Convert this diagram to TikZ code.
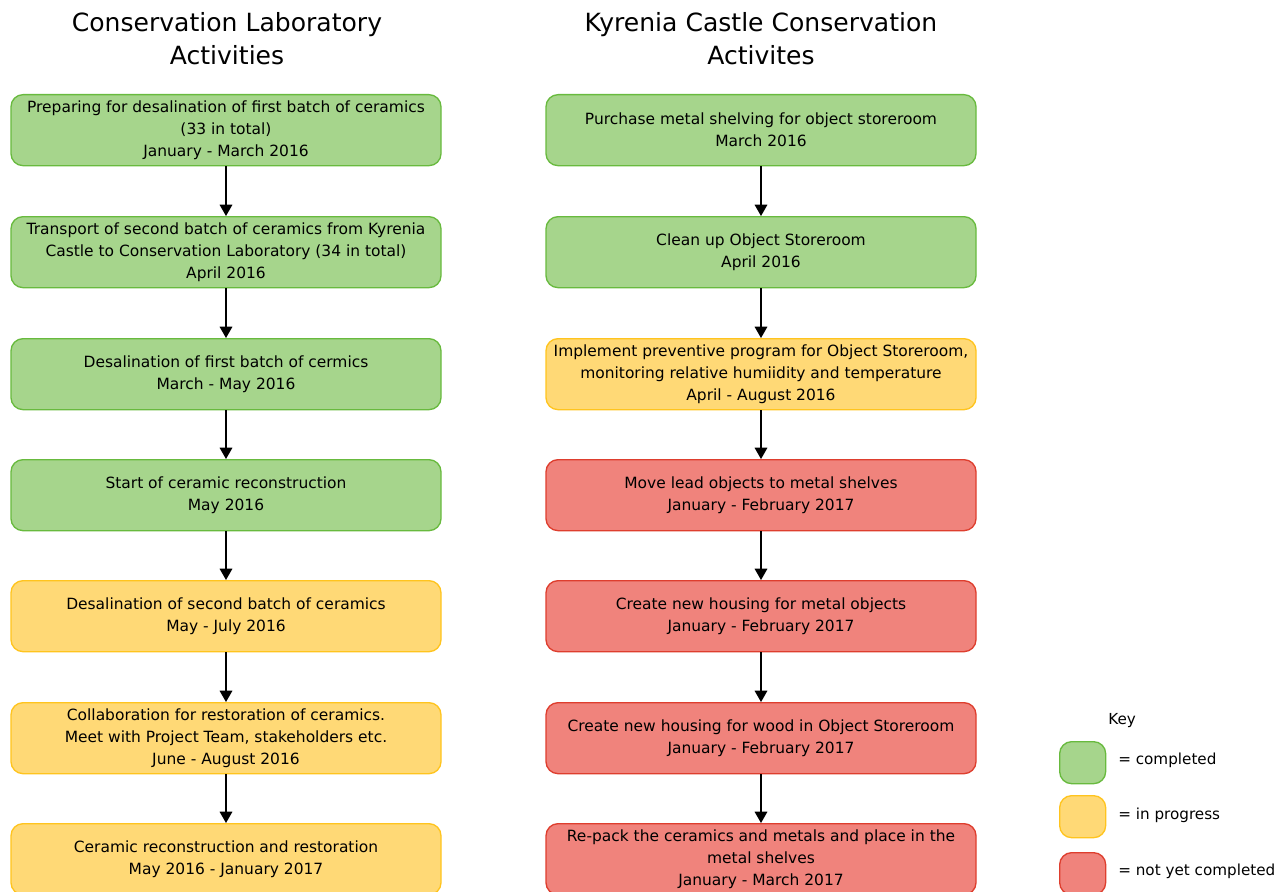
\documentclass[tikz,border=0pt]{standalone}
\usepackage{fontspec}
\setmainfont{DejaVu Sans}
\usetikzlibrary{arrows.meta}
\definecolor{gfill}{RGB}{166,213,140}
\definecolor{gline}{RGB}{104,186,62}
\definecolor{yfill}{RGB}{255,217,118}
\definecolor{yline}{RGB}{255,196,30}
\definecolor{rfill}{RGB}{240,131,124}
\definecolor{rline}{RGB}{222,62,46}
\tikzset{
  x=0.75pt, y=-0.75pt,
  box/.style={rounded corners=9pt, line width=1pt, minimum width=322.5pt, minimum height=53.25pt,
    align=center, inner sep=0pt, font=\fontsize{11.6pt}{16.5pt}\selectfont, anchor=north},
  gbox/.style={box, fill=gfill, draw=gline},
  ybox/.style={box, fill=yfill, draw=yline},
  rbox/.style={box, fill=rfill, draw=rline},
  keybox/.style={rounded corners=9pt, line width=1pt, minimum width=34.5pt, minimum height=31.5pt, inner sep=0pt, anchor=north west},
  title/.style={align=center, font=\fontsize{18.8pt}{24.75pt}\selectfont},
  keytext/.style={anchor=west, font=\fontsize{11.4pt}{13pt}\selectfont, inner sep=0pt},
  arr/.style={-{Triangle[width=9.5pt,length=8.5pt]}, line width=0.9pt, black},
}
\begin{document}
\begin{tikzpicture}
\useasboundingbox (0,0) rectangle (1282,892);
\node[title] (t1) at (227,39) {Conservation Laboratory\\Activities};
\node[title] (t2) at (761,39) {Kyrenia Castle Conservation\\Activites};

\node[gbox] (l1) at (226,94) {Preparing for desalination of first batch of ceramics\\(33 in total)\\January - March 2016};
\node[gbox] (l2) at (226,216) {Transport of second batch of ceramics from Kyrenia\\Castle to Conservation Laboratory (34 in total)\\April 2016};
\node[gbox] (l3) at (226,338) {Desalination of first batch of cermics\\March - May 2016};
\node[gbox] (l4) at (226,459) {Start of ceramic reconstruction\\May 2016};
\node[ybox] (l5) at (226,580) {Desalination of second batch of ceramics\\May - July 2016};
\node[ybox] (l6) at (226,702) {Collaboration for restoration of ceramics.\\Meet with Project Team, stakeholders etc.\\June - August 2016};
\node[ybox] (l7) at (226,823) {Ceramic reconstruction and restoration\\May 2016 - January 2017};

\node[gbox] (r1) at (761,94) {Purchase metal shelving for object storeroom\\March 2016};
\node[gbox] (r2) at (761,216) {Clean up Object Storeroom\\April 2016};
\node[ybox] (r3) at (761,338) {Implement preventive program for Object Storeroom,\\monitoring relative humiidity and temperature\\April - August 2016};
\node[rbox] (r4) at (761,459) {Move lead objects to metal shelves\\January - February 2017};
\node[rbox] (r5) at (761,580) {Create new housing for metal objects\\January - February 2017};
\node[rbox] (r6) at (761,702) {Create new housing for wood in Object Storeroom\\January - February 2017};
\node[rbox] (r7) at (761,823) {Re-pack the ceramics and metals and place in the\\metal shelves\\January - March 2017};

\foreach \a/\b in {l1/l2,l2/l3,l3/l4,l4/l5,l5/l6,l6/l7,r1/r2,r2/r3,r3/r4,r4/r5,r5/r6,r6/r7}
  \draw[arr] (\a.south) -- (\b.north);

\node[keytext] (kt) at (1108,721) {Key};
\node[keybox, fill=gfill, draw=gline] (k1) at (1059,741) {};
\node[keybox, fill=yfill, draw=yline] (k2) at (1059,795) {};
\node[keybox, fill=rfill, draw=rline] (k3) at (1059,852) {};
\node[keytext] (kt1) at (1118,760) {= completed};
\node[keytext] (kt2) at (1118,815) {= in progress};
\node[keytext] (kt3) at (1118,871) {= not yet completed};
\end{tikzpicture}
\end{document}
